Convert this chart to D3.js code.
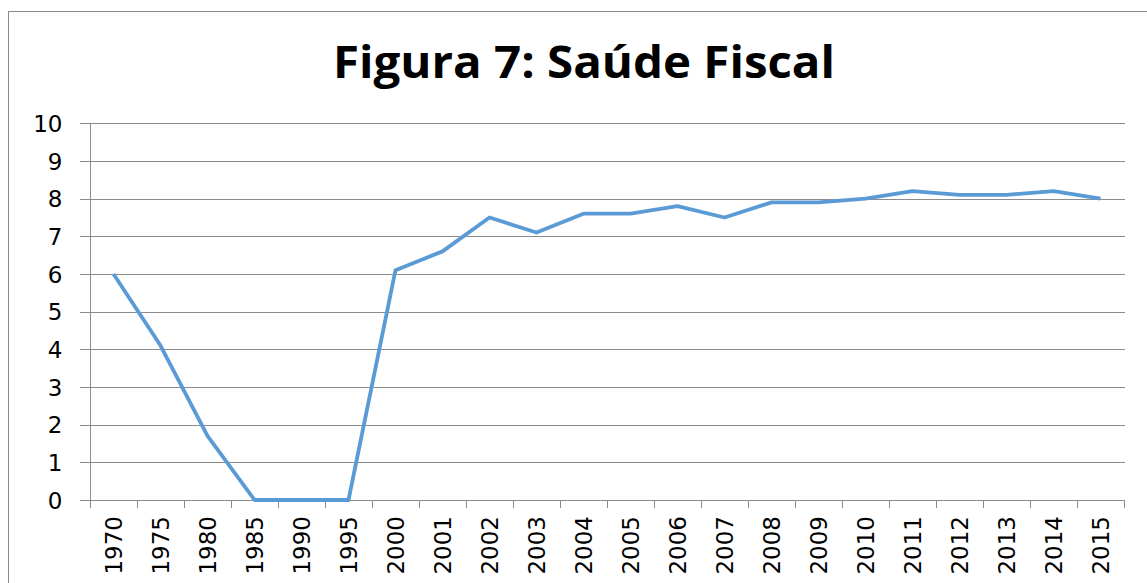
<!DOCTYPE html>
<html><head><meta charset="utf-8">
<script src="https://cdn.jsdelivr.net/npm/d3@7"></script>
<style>body{margin:0;background:#fff}svg{display:block}</style>
</head><body>
<svg id="c" width="1147" height="583"></svg>
<script>
const categories = ["1970","1975","1980","1985","1990","1995","2000","2001","2002","2003","2004","2005","2006","2007","2008","2009","2010","2011","2012","2013","2014","2015"];
const values = [6.0,4.1,1.7,0,0,0,6.1,6.6,7.5,7.1,7.6,7.6,7.8,7.5,7.9,7.9,8.0,8.2,8.1,8.1,8.2,8.0];
const yTicks = [0,1,2,3,4,5,6,7,8,9,10];
const title = "Figura 7: Saúde Fiscal";

const svg = d3.select("#c");
const L = 90, R = 1124, T = 123.3, B = 500;
const x = d3.scaleBand().domain(categories).range([L, R]);
const y = d3.scaleLinear().domain([0, 10]).range([B, T]);

svg.append("rect").attr("x", 8.5).attr("y", 11.5).attr("width", 1160).attr("height", 600)
  .attr("fill", "#fff").attr("stroke", "#8c8c8c").attr("stroke-width", 1);

svg.append("text").attr("x", 584).attr("y", 78).attr("text-anchor", "middle")
  .attr("font-family", "Open Sans").attr("font-weight", "bold").attr("font-size", 44)
  .attr("textLength", 502).attr("lengthAdjust", "spacingAndGlyphs")
  .attr("fill", "#000").text(title);

// gridlines
svg.append("g").selectAll("line").data(yTicks).join("line")
  .attr("x1", 80).attr("x2", 1125)
  .attr("y1", d => Math.round(y(d)) + 0.5).attr("y2", d => Math.round(y(d)) + 0.5)
  .attr("stroke", "#8c8c8c").attr("stroke-width", 1);

// y axis
const yAxis = d3.axisLeft(y).tickValues(yTicks).tickSize(10).tickPadding(8);
const gy = svg.append("g").attr("transform", `translate(${L + 0.5},0)`).call(yAxis);
gy.select(".domain").remove();
gy.selectAll(".tick line").remove();
gy.append("line").attr("x1", 0).attr("x2", 0).attr("y1", T).attr("y2", B + 8).attr("stroke", "#8c8c8c");
gy.selectAll("text").attr("font-family", "DejaVu Sans").attr("font-size", 23).attr("fill", "#000")
  .attr("x", -28).attr("dy", "0.36em");

// x axis ticks at band boundaries
const bounds = categories.map(c => x(c)).concat([R]);
svg.append("g").selectAll("line").data(bounds).join("line")
  .attr("x1", d => Math.round(d) + 0.5).attr("x2", d => Math.round(d) + 0.5)
  .attr("y1", B).attr("y2", B + 8).attr("stroke", "#8c8c8c");

svg.append("g").selectAll("text").data(categories).join("text")
  .attr("transform", d => `translate(${x(d) + x.bandwidth() / 2 + 8.5},516) rotate(-90)`)
  .attr("text-anchor", "end")
  .attr("font-family", "DejaVu Sans").attr("font-size", 23).attr("fill", "#000")
  .text(d => d);

// line
const line = d3.line().x((d, i) => x(categories[i]) + x.bandwidth() / 2).y(d => y(d));
svg.append("path").datum(values).attr("d", line)
  .attr("fill", "none").attr("stroke", "#5b9bd5").attr("stroke-width", 3.8)
  .attr("stroke-linejoin", "round");
</script>
</body></html>
